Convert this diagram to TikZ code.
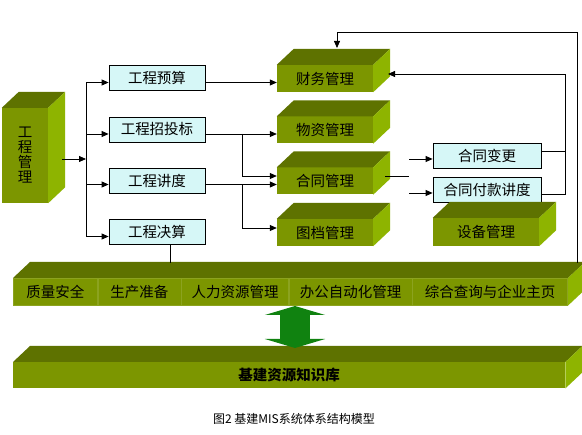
\documentclass[tikz,border=0pt]{standalone}
\usepackage{fontspec}
\newfontfamily\cjk{Noto Sans CJK SC}
\usetikzlibrary{arrows.meta,positioning}
\definecolor{gfront}{RGB}{124,150,0}
\definecolor{gtop}{RGB}{94,114,0}
\definecolor{gside}{RGB}{142,180,0}
\definecolor{cyanbox}{RGB}{214,247,247}
\definecolor{arrowgreen}{RGB}{16,130,16}

\begin{document}
\begin{tikzpicture}[x=1pt,y=-1pt,font=\cjk\fontsize{14.5}{15}\selectfont]
    % Set up styles for the boxes and lines
    \tikzstyle{module} = [fill=gfront,minimum width=96pt,minimum height=27pt,inner sep=0pt]
    \tikzstyle{task} = [draw,line width=0.8pt,fill=cyanbox,minimum width=96pt,minimum height=25pt,inner sep=0pt]
    \tikzstyle{cell} = [fill=gfront,draw=gfront!88!white,line width=0.6pt,minimum height=27pt,inner sep=0pt]
    \tikzstyle{arrow} = [-{Triangle[length=7pt,width=6pt]},line width=0.8pt]
    \tikzstyle{link} = [line width=0.8pt]
    \tikzstyle{dbl} = [{Triangle[length=9pt,width=60pt]}-{Triangle[length=9pt,width=60pt]},line width=30pt,arrowgreen]

    \useasboundingbox[fill=white] (0,0) rectangle (582,435);

    % Engineering block on the left
    \node[module,minimum width=46pt,minimum height=95pt,align=center] (gcgl) at (25,155.5) {工\\程\\管\\理};

    % Cyan task boxes
    \node[task] (ys) at (157,78) {工程预算};
    \node[task] (zb) at (157,129.5) {工程招投标};
    \node[task] (jd) at (157,181) {工程讲度};
    \node[task] (js) at (157,232) {工程决算};
    \node[task,minimum width=108pt] (bg) at (487,155.5) {合同变更};
    \node[task,minimum width=108pt] (fk) at (487,189.5) {合同付款讲度};

    % Green modules
    \node[module] (cw) at (325,78.5) {财务管理};
    \node[module] (wz) at (325,130) {物资管理};
    \node[module] (ht) at (325,181) {合同管理};
    \node[module] (td) at (325,232.5) {图档管理};
    \node[module,minimum width=106pt,minimum height=28pt] (sb) at (486,232) {设备管理};

    % Middle bar of modules
    \node[cell,minimum width=84pt,anchor=north west] (q1) at (13,278) {质量安全};
    \node[cell,minimum width=83pt,right=0pt of q1] (q2) {生产准备};
    \node[cell,minimum width=107pt,right=0pt of q2] (q3) {人力资源管理};
    \node[cell,minimum width=123pt,right=0pt of q3] (q4) {办公自动化管理};
    \node[cell,minimum width=155pt,right=0pt of q4] (q5) {综合查询与企业主页};

    % Knowledge base at the bottom
    \node[module,minimum width=552pt,minimum height=26pt,anchor=north west,
        font=\cjk\bfseries\fontsize{14.5}{15}\selectfont] (kb) at (13,362) {基建资源知识库};

    % Top and side faces of the boxes
    \foreach \n in {gcgl,cw,wz,ht,td,sb,kb} {
        \fill[gtop] (\n.north west) -- ([shift={(17,-16)}]\n.north west)
            -- ([shift={(17,-16)}]\n.north east) -- (\n.north east) -- cycle;
        \fill[gside] (\n.north east) -- ([shift={(17,-16)}]\n.north east)
            -- ([shift={(17,-16)}]\n.south east) -- (\n.south east) -- cycle;
    }
    \fill[gtop] (q1.north west) -- ([shift={(17,-16)}]q1.north west)
        -- ([shift={(17,-16)}]q5.north east) -- (q5.north east) -- cycle;
    \fill[gside] (q5.north east) -- ([shift={(17,-16)}]q5.north east)
        -- ([shift={(17,-16)}]q5.south east) -- (q5.south east) -- cycle;

    % Left bus
    \coordinate (b1) at (86,82.5);
    \coordinate (b2) at (86,134);
    \coordinate (b3) at (86,184.5);
    \coordinate (b4) at (86,236.5);
    \coordinate (bus) at (86,159);
    \draw[arrow] ([xshift=14pt,yshift=-3.5pt]gcgl.east) -- (bus);
    \draw[link] (b1) -- (b4);
    \foreach \b/\t in {b1/ys,b2/zb,b3/jd,b4/js}
        \draw[arrow] (\b) -- (\t.west |- \b);

    % Tasks to modules
    \coordinate (s1) at (242,134);
    \coordinate (s1d) at (242,176);
    \coordinate (s2) at (242,184.5);
    \coordinate (s2d) at (242,228);
    \draw[arrow] (ys.east |- b1) -- (cw.west |- b1);
    \draw[link] (zb.east |- s1) -- (s1);
    \draw[arrow] (s1) -- (wz.west |- s1);
    \draw[arrow] (s1) -- (s1d) -- (ht.west |- s1d);
    \draw[arrow] (jd.east |- s2) -- (ht.west |- s2);
    \draw[arrow] (s2) -- (s2d) -- (td.west |- s2d);

    % Contract management branch
    \coordinate (h0) at (385,176);
    \coordinate (h1) at (409,176);
    \coordinate (h2) at (409,159);
    \coordinate (h3) at (409,193);
    \draw[link] (h0) -- (h1);
    \draw[arrow] (h2) -- (bg.west |- h2);
    \draw[arrow] (h3) -- (fk.west |- h3);

    % Feedback to finance
    \coordinate (r1) at (565,151);
    \coordinate (r2) at (565,194);
    \coordinate (r0) at (565,74);
    \coordinate (cwin) at (388,74);
    \draw[link] (bg.east |- r1) -- (r1);
    \draw[arrow] (fk.east |- r2) -- (r2) -- (r0) -- (cwin);

    % Outer loop and link down to the bar
    \coordinate (o1) at (577,263);
    \coordinate (o2) at (577,32);
    \coordinate (o3) at (337,32);
    \coordinate (o4) at (337,48);
    \draw[arrow] (o1) -- (o2) -- (o3) -- (o4);
    \coordinate (j0) at (170,263);
    \draw[link] (js.south -| j0) -- (j0);

    % Double arrow between the bars
    \coordinate (d1) at (295,306);
    \coordinate (d2) at (295,348);
    \draw[dbl] (d1) -- (d2);

    % Caption
    \node (cap) at (294,419) {\fontsize{12}{13}\selectfont 图2 基建MIS系统体系结构模型};

\end{tikzpicture}
\end{document}
